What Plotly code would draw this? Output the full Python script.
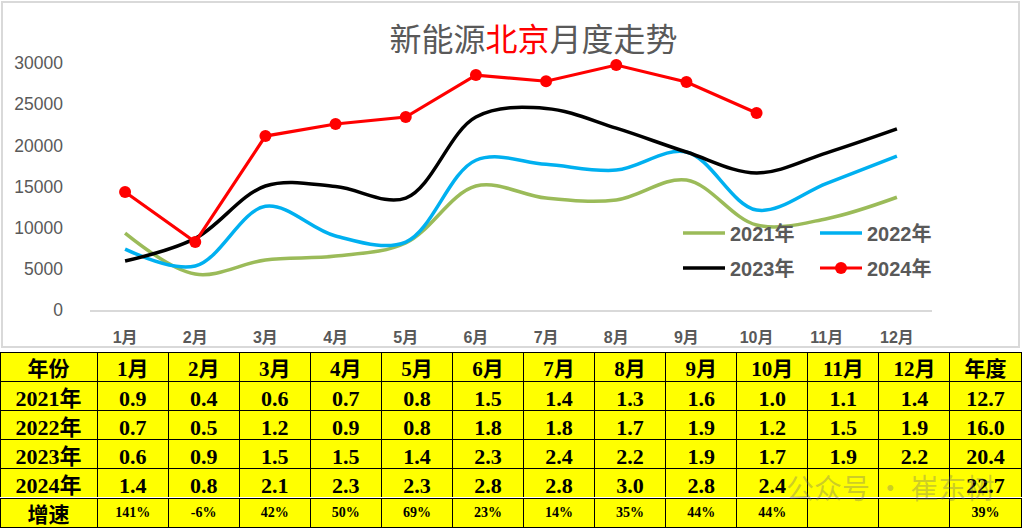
import plotly.graph_objects as go

months = ["1月", "2月", "3月", "4月", "5月", "6月", "7月", "8月", "9月", "10月", "11月", "12月"]

sales_2021 = [9350, 4370, 6080, 6560, 8140, 15070, 13600, 13370, 15800, 10330, 11100, 13700]
sales_2022 = [7400, 5350, 12600, 9000, 8260, 18200, 17700, 17000, 19200, 12150, 15400, 18700]
sales_2023 = [5950, 8700, 15070, 15000, 13600, 23450, 24500, 22100, 19200, 16650, 19100, 22000]
sales_2024 = [14340, 8260, 21140, 22600, 23450, 28550, 27800, 29770, 27700, 23940]

y_ticks = [0, 5000, 10000, 15000, 20000, 25000, 30000]

# table data (万辆)
tbl_2021 = [0.9, 0.4, 0.6, 0.7, 0.8, 1.5, 1.4, 1.3, 1.6, 1.0, 1.1, 1.4]
tbl_2022 = [0.7, 0.5, 1.2, 0.9, 0.8, 1.8, 1.8, 1.7, 1.9, 1.2, 1.5, 1.9]
tbl_2023 = [0.6, 0.9, 1.5, 1.5, 1.4, 2.3, 2.4, 2.2, 1.9, 1.7, 1.9, 2.2]
tbl_2024 = [1.4, 0.8, 2.1, 2.3, 2.3, 2.8, 2.8, 3.0, 2.8, 2.4]
growth = ["141%", "-6%", "42%", "50%", "69%", "23%", "14%", "35%", "44%", "44%", "", ""]
annual = [12.7, 16.0, 20.4, 22.7]
annual_growth = "39%"
row_labels = ["2021年", "2022年", "2023年", "2024年"]
growth_label = "增速"
header_first = "年份"
header_last = "年度"

W, H = 1024, 529
GREY = "#595959"
TFONT = "Liberation Serif, Noto Sans CJK SC"

fig = go.Figure()

series = [
    ("2021年", sales_2021, "#9BBB59", "legend"),
    ("2022年", sales_2022, "#00B0F0", "legend"),
    ("2023年", sales_2023, "#000000", "legend2"),
]
for name, vals, col, lg in series:
    fig.add_trace(go.Scatter(
        x=months[:len(vals)], y=vals, name=name, mode="lines",
        line=dict(color=col, width=3.5, shape="spline", smoothing=1.0),
        legend=lg,
    ))
fig.add_trace(go.Scatter(
    x=months[:len(sales_2024)], y=sales_2024, name="2024年", mode="lines+markers",
    line=dict(color="#FF0000", width=3.2),
    marker=dict(color="#FF0000", size=12),
    legend="legend2",
))

def fmt(v):
    return "" if v is None else f"{v:.1f}"

header_vals = [header_first] + months + [header_last]
cols = [row_labels]
for i in range(12):
    v24 = tbl_2024[i] if i < len(tbl_2024) else None
    cols.append([fmt(tbl_2021[i]), fmt(tbl_2022[i]), fmt(tbl_2023[i]), fmt(v24)])
cols.append([fmt(a) for a in annual])

growth_row = [growth_label] + growth + [annual_growth]

colw = [97] + [71] * 13
split = 1 - 498 / H

fig.add_trace(go.Table(
    domain=dict(x=[0.0, 0.998], y=[split, 1 - 352 / H]),
    columnwidth=colw,
    header=dict(values=header_vals, fill_color="#FFFF00", line=dict(color="black", width=1),
                align="center", height=29,
                font=dict(family=TFONT, size=21, color="black", weight="bold")),
    cells=dict(values=cols, fill_color="#FFFF00", line=dict(color="black", width=1),
               align="center", height=29,
               font=dict(family=TFONT, size=22, color="black", weight="bold")),
))
fig.add_trace(go.Table(
    domain=dict(x=[0.0, 0.998], y=[0.0, split]),
    columnwidth=colw,
    header=dict(values=growth_row, fill_color="#FFFF00", line=dict(color="black", width=1),
                align="center", height=29,
                font=dict(family=TFONT, size=[21] + [14] * 13, color="black", weight="bold")),
    cells=dict(values=[[] for _ in growth_row], height=1),
))

legend_common = dict(
    orientation="h", xanchor="left", yanchor="middle",
    entrywidth=80, entrywidthmode="pixels", itemwidth=42,
    font=dict(family="Liberation Sans, Noto Sans CJK SC", size=20, color=GREY, weight="bold"),
    bgcolor="rgba(0,0,0,0)",
)

fig.update_layout(
    width=W, height=H,
    margin=dict(l=0, r=0, t=0, b=0),
    paper_bgcolor="white", plot_bgcolor="white",
    title=dict(
        text="新能源<span style='color:#FF0000'>北京</span>月度走势",
        x=533.5 / W, y=1 - 40 / H, xanchor="center", yanchor="middle",
        font=dict(family="Noto Sans CJK SC", size=32, color=GREY),
    ),
    xaxis=dict(
        domain=[90 / W, 932 / W], type="category", range=[-0.5, 11.5],
        showgrid=False, showline=True, linecolor="#D9D9D9", linewidth=2,
        ticks="", ticklabelstandoff=12, automargin=False,
        tickfont=dict(family="Liberation Sans, Noto Sans CJK SC", size=16, color=GREY, weight="bold"),
    ),
    yaxis=dict(
        domain=[1 - 310 / H, 1 - 22 / H], range=[0, 35000],
        tickvals=y_ticks, ticktext=[str(t) for t in y_ticks],
        showgrid=False, zeroline=False, showline=False,
        ticks="", ticklabelstandoff=26, automargin=False,
        tickfont=dict(family="Liberation Sans", size=17.5, color=GREY),
    ),
    legend=dict(x=678 / W, y=1 - 233 / H, **legend_common),
    legend2=dict(x=678 / W, y=1 - 268 / H, **legend_common),
    shapes=[dict(type="rect", xref="paper", yref="paper",
                 x0=2 / W, x1=1019 / W, y0=1 - 347 / H, y1=1 - 2 / H,
                 line=dict(color="#D9D9D9", width=2), fillcolor="rgba(0,0,0,0)", layer="below")],
    annotations=[dict(text="公众号 · 崔东树", xref="paper", yref="paper",
                      x=890 / W, y=1 - 487 / H, xanchor="center", yanchor="middle", showarrow=False,
                      font=dict(family="Noto Sans CJK SC", size=28, color="rgba(110,110,110,0.35)"))],
)

fig.write_html("out.html", config={"displayModeBar": False},
               post_script="document.body.style.margin='0';document.body.style.overflow='hidden';")
